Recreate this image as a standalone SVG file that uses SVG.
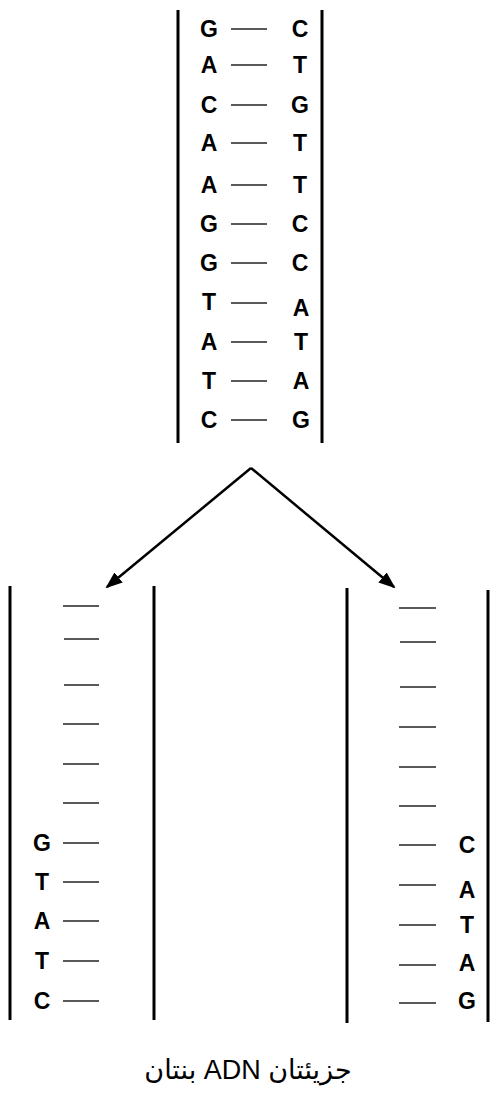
<svg xmlns="http://www.w3.org/2000/svg" width="491" height="1093" viewBox="0 0 491 1093">
<style>
.strand{stroke:#000;stroke-width:3;fill:none}
.bond{stroke:#222;stroke-width:1.6}
.base{font-family:"Liberation Sans",Arial,sans-serif;font-weight:bold;font-size:23px;text-anchor:middle;fill:#000}
.cap{font-family:"Liberation Sans",Arial,"DejaVu Sans",sans-serif;font-size:27px;fill:#000}
.conn{stroke:#000;stroke-width:2.5;fill:none}
</style>
<defs>
<marker id="ah" markerWidth="17" markerHeight="13" refX="15" refY="6.5" orient="auto" markerUnits="userSpaceOnUse" viewBox="0 0 17 13">
<path d="M0,0 L17,6.5 L0,13 z" fill="#000"/>
</marker>
</defs>
<g id="parent">
<line class="strand" x1="178" y1="10" x2="178" y2="443"/>
<line class="strand" x1="322" y1="10" x2="322" y2="443"/>
<g class="bond">
<line x1="231" y1="29" x2="267" y2="29"/>
<line x1="231" y1="65" x2="267" y2="65"/>
<line x1="231" y1="105" x2="267" y2="105"/>
<line x1="231" y1="143" x2="267" y2="143"/>
<line x1="231" y1="185" x2="267" y2="185"/>
<line x1="231" y1="224" x2="267" y2="224"/>
<line x1="231" y1="263" x2="267" y2="263"/>
<line x1="231" y1="303" x2="267" y2="303"/>
<line x1="231" y1="342" x2="267" y2="342"/>
<line x1="231" y1="381" x2="267" y2="381"/>
<line x1="231" y1="420" x2="267" y2="420"/>
</g>
<g class="base">
<text x="209" y="37">G</text><text x="300" y="37">C</text>
<text x="209" y="73">A</text><text x="300" y="73">T</text>
<text x="209" y="113">C</text><text x="300" y="113">G</text>
<text x="209" y="151">A</text><text x="300" y="151">T</text>
<text x="209" y="193">A</text><text x="300" y="193">T</text>
<text x="209" y="232">G</text><text x="300" y="232">C</text>
<text x="209" y="271">G</text><text x="300" y="271">C</text>
<text x="209" y="310">T</text><text x="301" y="316">A</text>
<text x="209" y="350">A</text><text x="301" y="350">T</text>
<text x="209" y="389">T</text><text x="301" y="389">A</text>
<text x="209" y="428">C</text><text x="301" y="428">G</text>
</g>
</g>
<g id="daughter-left">
<line class="strand" x1="10" y1="586" x2="10" y2="1020"/>
<line class="strand" x1="154" y1="586" x2="154" y2="1020"/>
<g class="bond">
<line x1="63" y1="606" x2="99" y2="606"/>
<line x1="64" y1="639" x2="99" y2="639"/>
<line x1="64" y1="685" x2="99" y2="685"/>
<line x1="63" y1="724" x2="99" y2="724"/>
<line x1="63" y1="764" x2="99" y2="764"/>
<line x1="63" y1="803" x2="99" y2="803"/>
<line x1="63" y1="843" x2="99" y2="843"/>
<line x1="63" y1="882" x2="99" y2="882"/>
<line x1="63" y1="921" x2="99" y2="921"/>
<line x1="63" y1="961" x2="99" y2="961"/>
<line x1="63" y1="1001" x2="99" y2="1001"/>
</g>
<g class="base">
<text x="42" y="851">G</text>
<text x="42" y="890">T</text>
<text x="42" y="929">A</text>
<text x="42" y="969">T</text>
<text x="42" y="1009">C</text>
</g>
</g>
<g id="daughter-right">
<line class="strand" x1="347" y1="588" x2="347" y2="1023"/>
<line class="strand" x1="488" y1="590" x2="488" y2="1022"/>
<g class="bond">
<line x1="399" y1="608" x2="436" y2="608"/>
<line x1="400" y1="642" x2="436" y2="642"/>
<line x1="400" y1="687" x2="436" y2="687"/>
<line x1="399" y1="727" x2="436" y2="727"/>
<line x1="399" y1="767" x2="436" y2="767"/>
<line x1="399" y1="806" x2="436" y2="806"/>
<line x1="399" y1="845" x2="436" y2="845"/>
<line x1="399" y1="885" x2="436" y2="885"/>
<line x1="399" y1="925" x2="436" y2="925"/>
<line x1="399" y1="965" x2="436" y2="965"/>
<line x1="399" y1="1003" x2="436" y2="1003"/>
</g>
<g class="base">
<text x="467" y="853">C</text>
<text x="467" y="898">A</text>
<text x="467" y="933">T</text>
<text x="467" y="971">A</text>
<text x="467" y="1009">G</text>
</g>
</g>
<g id="connectors">
<path class="conn" d="M251,468 L107,587" marker-end="url(#ah)"/>
<path class="conn" d="M251,468 L394,587" marker-end="url(#ah)"/>
</g>
<g id="caption">
<text class="cap" x="248" y="1079" text-anchor="middle" direction="rtl" unicode-bidi="embed">جزيئتان ADN بنتان</text>
</g>
</svg>
